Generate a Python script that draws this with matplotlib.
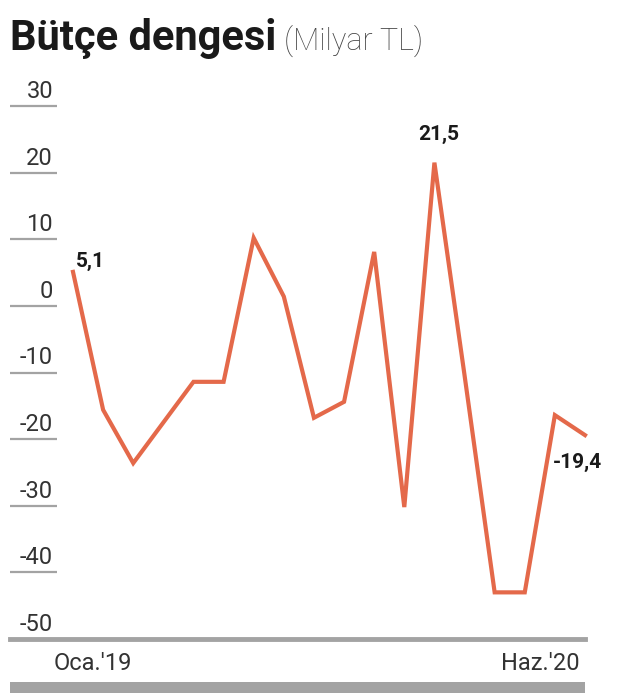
import matplotlib
matplotlib.use("Agg")
import matplotlib.pyplot as plt
from matplotlib.patches import Rectangle

months = ["Oca.'19", "Şub.'19", "Mar.'19", "Nis.'19", "May.'19", "Haz.'19",
          "Tem.'19", "Ağu.'19", "Eyl.'19", "Eki.'19", "Kas.'19", "Ara.'19",
          "Oca.'20", "Şub.'20", "Mar.'20", "Nis.'20", "May.'20", "Haz.'20"]
balance = [5.1, -15.6, -23.6, -17.5, -11.4, -11.4, 10.2, 1.4, -16.8, -14.4,
           8.1, -30.2, 21.5, -10.4, -43.0, -43.0, -16.4, -19.4]
yticks = [30, 20, 10, 0, -10, -20, -30, -40, -50]
xlabels = ["Oca.'19", "Haz.'20"]
annot = {0: "5,1", 12: "21,5", 17: "-19,4"}

FAM = ["Roboto", "DejaVu Sans"]

W, H = 629, 695
fig = plt.figure(figsize=(W / 100, H / 100), dpi=100)
fig.patch.set_facecolor("white")

def fx(px):
    return px / W

def fy(py):
    return 1 - py / H

# axes: x pixel 10..585, y pixel 106 (30) .. 639 (-50)
ax = fig.add_axes([fx(10), fy(639), fx(585) - fx(10), fy(106) - fy(639)])
step = (585 - 73) / (len(balance) - 1)
x0 = -(73 - 10) / step
ax.set_xlim(x0, len(balance) - 1)
ax.set_ylim(-50, 30)
ax.axis("off")

GRAY = "#a3a3a3"
LINE = "#e4694a"

xs = list(range(len(balance)))
# tick underlines
x_end = -(73 - 57) / step
ax.hlines(yticks[:-1], x0, x_end, color=GRAY, lw=1.6, clip_on=False)
ax.axhline(-50, color=GRAY, lw=3.5, clip_on=False)

x_lab = -(73 - 53) / step
for t in yticks:
    ax.annotate(f"{t}", (x_lab, t),
                xytext=(0, 8), textcoords="offset pixels",
                ha="right", va="baseline", fontsize=17, color="#333333",
                family=FAM, annotation_clip=False)

ax.plot(xs, balance, color=LINE, lw=3.0, solid_joinstyle="miter", clip_on=False)

# data labels
ax.annotate(annot[0], (0, balance[0]), xytext=(3, 5), textcoords="offset pixels",
            ha="left", va="baseline", fontsize=15, fontweight="bold",
            color="#1a1a1a", family=FAM, annotation_clip=False)
ax.annotate(annot[12], (12, balance[12]), xytext=(4, 23), textcoords="offset pixels",
            ha="center", va="baseline", fontsize=15, fontweight="bold",
            color="#1a1a1a", family=FAM, annotation_clip=False)
ax.annotate(annot[17], (17, balance[17]), xytext=(-32, -33), textcoords="offset pixels",
            ha="left", va="baseline", fontsize=15, fontweight="bold",
            color="#1a1a1a", family=FAM, annotation_clip=False)

# x labels
ax.annotate(xlabels[0], (0, -50), xytext=(-19, -31), textcoords="offset pixels",
            ha="left", va="baseline", fontsize=17, color="#333333",
            family=FAM, annotation_clip=False)
ax.annotate(xlabels[1], (17, -50), xytext=(-5, -31), textcoords="offset pixels",
            ha="right", va="baseline", fontsize=17, color="#333333",
            family=FAM, annotation_clip=False)

# bottom band
fig.add_artist(Rectangle((fx(10), fy(693)), fx(585) - fx(10), fy(682) - fy(693),
                         transform=fig.transFigure, color=GRAY, lw=0))

# title
t1 = fig.text(fx(10), fy(50), "Bütçe dengesi", fontsize=30, fontweight="bold",
              color="#1a1a1a", family=FAM, ha="left", va="baseline")
fig.canvas.draw()
bb = t1.get_window_extent()
fig.text((bb.x1 + 8) / W, fy(50), "(Milyar TL)", fontsize=22, fontweight="light",
         color="#444444", family=FAM, ha="left", va="baseline")

fig.savefig("out.png", dpi=100, facecolor="white")
